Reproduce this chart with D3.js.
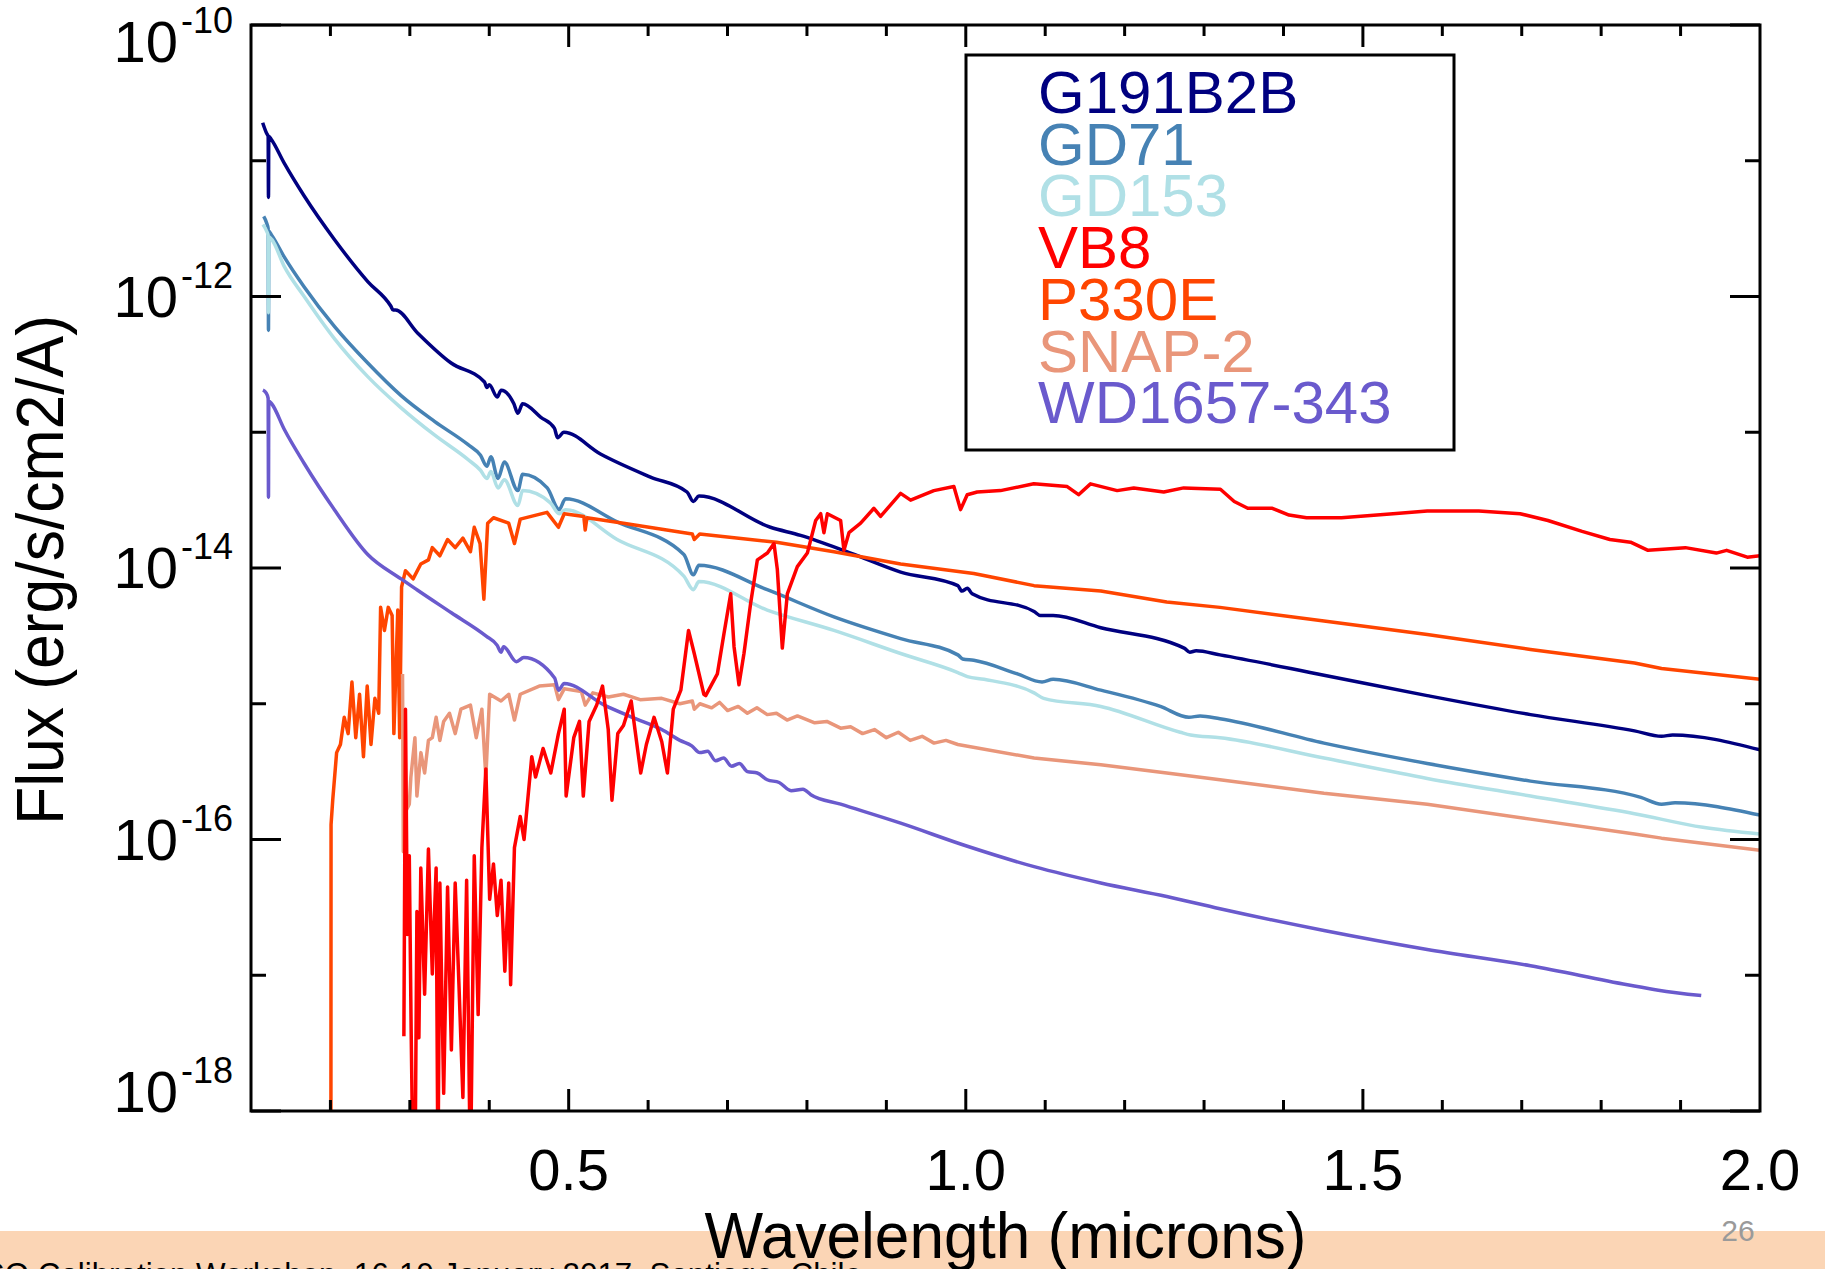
<!DOCTYPE html>
<html><head><meta charset="utf-8">
<script src="https://cdn.jsdelivr.net/npm/d3@7"></script>
<style>
body{margin:0;background:#fff;overflow:hidden}
svg{display:block}
text{font-family:"Liberation Sans",Arial,Helvetica,sans-serif}
</style>
</head><body>
<svg id="chart" width="1825" height="1269"></svg>
<script>
// ---------------- DATA (wavelength in microns, log10 flux in erg/s/cm2/A) ----------------
const seriesNames  = ["G191B2B","GD71","GD153","VB8","P330E","SNAP-2","WD1657-343"];
const seriesColors = ["#000080","#4682B4","#B0E0E6","#FF0000","#FF4500","#E9967A","#6A5ACD"];

const G191B2B = [[0.1147,-10.72],[0.1198,-10.80],[0.1216,-10.82],[0.1220,-11.27],[0.1224,-10.82],[0.1252,-10.84],[0.142,-11.02],[0.167,-11.26],[0.205,-11.58],[0.247,-11.89],[0.276,-12.07],[0.279,-12.10],[0.282,-12.10],[0.310,-12.27],[0.352,-12.49],[0.394,-12.63],[0.397,-12.67],[0.400,-12.65],[0.410,-12.74],[0.415,-12.69],[0.431,-12.79],[0.436,-12.86],[0.442,-12.79],[0.465,-12.89],[0.482,-12.97],[0.486,-13.04],[0.494,-13.00],[0.540,-13.16],[0.603,-13.33],[0.649,-13.44],[0.657,-13.51],[0.664,-13.47],[0.754,-13.70],[0.792,-13.76],[0.855,-13.89],[0.918,-14.03],[0.990,-14.13],[0.995,-14.17],[1.002,-14.15],[1.008,-14.19],[1.086,-14.32],[1.094,-14.35],[1.110,-14.35],[1.170,-14.44],[1.275,-14.59],[1.282,-14.62],[1.290,-14.61],[1.32,-14.64],[1.451,-14.79],[1.581,-14.94],[1.711,-15.08],[1.842,-15.20],[1.876,-15.24],[1.890,-15.23],[2.0,-15.34]];

const GD71 = [[0.1160,-11.41],[0.1198,-11.46],[0.1216,-11.50],[0.1220,-12.25],[0.1224,-11.52],[0.1262,-11.55],[0.142,-11.71],[0.167,-11.93],[0.205,-12.22],[0.247,-12.49],[0.289,-12.73],[0.331,-12.92],[0.373,-13.09],[0.389,-13.17],[0.397,-13.25],[0.402,-13.18],[0.411,-13.34],[0.419,-13.22],[0.436,-13.43],[0.442,-13.31],[0.473,-13.41],[0.488,-13.57],[0.496,-13.49],[0.561,-13.66],[0.645,-13.90],[0.657,-14.05],[0.664,-13.98],[0.750,-14.16],[0.834,-14.36],[0.918,-14.52],[0.990,-14.64],[0.996,-14.67],[1.010,-14.68],[1.065,-14.78],[1.096,-14.84],[1.110,-14.82],[1.170,-14.90],[1.245,-15.02],[1.281,-15.10],[1.295,-15.09],[1.320,-15.11],[1.451,-15.29],[1.581,-15.44],[1.711,-15.57],[1.850,-15.69],[1.876,-15.74],[1.893,-15.73],[2.0,-15.82]];

const GD153 = [[0.1150,-11.47],[0.1198,-11.52],[0.1216,-11.55],[0.1220,-12.12],[0.1224,-11.56],[0.1262,-11.58],[0.142,-11.78],[0.167,-12.00],[0.205,-12.31],[0.247,-12.59],[0.289,-12.82],[0.331,-13.02],[0.373,-13.20],[0.389,-13.28],[0.397,-13.34],[0.402,-13.29],[0.411,-13.41],[0.419,-13.35],[0.436,-13.54],[0.442,-13.43],[0.477,-13.52],[0.488,-13.60],[0.496,-13.57],[0.561,-13.79],[0.645,-14.06],[0.657,-14.16],[0.664,-14.10],[0.750,-14.31],[0.834,-14.46],[0.918,-14.63],[0.990,-14.77],[1.002,-14.80],[1.023,-14.82],[1.086,-14.92],[1.098,-14.96],[1.170,-15.02],[1.270,-15.21],[1.283,-15.23],[1.320,-15.25],[1.451,-15.40],[1.581,-15.55],[1.711,-15.68],[1.842,-15.81],[1.928,-15.91],[2.0,-15.96]];

const VB8 = [[0.2925,-17.45],[0.2945,-15.04],[0.2969,-16.70],[0.2993,-16.12],[0.3017,-17.43],[0.3041,-18.5],[0.3065,-18.5],[0.3089,-16.53],[0.3114,-17.46],[0.3138,-16.21],[0.3186,-17.14],[0.3234,-16.07],[0.3283,-16.99],[0.3331,-16.21],[0.3354,-18.5],[0.3378,-16.32],[0.3426,-17.87],[0.3475,-16.35],[0.3523,-17.55],[0.3571,-16.32],[0.3619,-17.08],[0.3668,-17.90],[0.3715,-16.30],[0.3763,-18.5],[0.3811,-16.12],[0.3860,-17.29],[0.3907,-16.06],[0.3957,-15.48],[0.4005,-16.44],[0.4053,-16.18],[0.4101,-16.56],[0.4148,-16.30],[0.4196,-16.97],[0.4245,-16.32],[0.4269,-17.07],[0.4317,-16.06],[0.4390,-15.83],[0.4438,-16.00],[0.4535,-15.39],[0.4583,-15.54],[0.4678,-15.33],[0.4775,-15.51],[0.4871,-15.22],[0.4944,-15.04],[0.4968,-15.68],[0.5064,-15.25],[0.5136,-15.13],[0.5184,-15.68],[0.5257,-15.13],[0.5353,-15.01],[0.5426,-14.87],[0.5498,-15.19],[0.5545,-15.71],[0.5618,-15.22],[0.5690,-15.16],[0.5787,-14.98],[0.5907,-15.51],[0.5978,-15.30],[0.6075,-15.10],[0.6172,-15.28],[0.6243,-15.51],[0.6317,-15.04],[0.6412,-14.90],[0.6509,-14.46],[0.6581,-14.63],[0.6702,-14.93],[0.6725,-14.94],[0.6872,-14.78],[0.6956,-14.48],[0.7040,-14.19],[0.7082,-14.58],[0.7144,-14.86],[0.7207,-14.63],[0.7291,-14.26],[0.7376,-13.94],[0.7502,-13.89],[0.7585,-13.82],[0.7627,-14.01],[0.7690,-14.59],[0.7753,-14.19],[0.7879,-13.99],[0.8005,-13.89],[0.8110,-13.65],[0.8173,-13.60],[0.8214,-13.74],[0.8257,-13.60],[0.8424,-13.65],[0.8466,-13.87],[0.8529,-13.74],[0.8676,-13.67],[0.8843,-13.56],[0.8927,-13.62],[0.9179,-13.45],[0.9305,-13.50],[0.9598,-13.43],[0.9850,-13.40],[0.9934,-13.57],[1.0018,-13.46],[1.0144,-13.44],[1.0437,-13.43],[1.0856,-13.38],[1.1277,-13.40],[1.1420,-13.46],[1.1570,-13.38],[1.1906,-13.43],[1.2115,-13.41],[1.2492,-13.44],[1.2744,-13.41],[1.3206,-13.42],[1.338,-13.51],[1.355,-13.56],[1.386,-13.56],[1.407,-13.61],[1.429,-13.63],[1.473,-13.63],[1.538,-13.60],[1.581,-13.58],[1.646,-13.58],[1.698,-13.60],[1.733,-13.65],[1.776,-13.73],[1.811,-13.79],[1.837,-13.81],[1.859,-13.87],[1.906,-13.85],[1.945,-13.89],[1.958,-13.87],[1.984,-13.92],[2.0,-13.91]];

const P330E = [[0.2006,-18.5],[0.2008,-15.89],[0.2029,-15.71],[0.2078,-15.36],[0.2126,-15.30],[0.2174,-15.10],[0.2223,-15.22],[0.2271,-14.84],[0.2319,-15.25],[0.2367,-14.93],[0.2416,-15.39],[0.2463,-14.87],[0.2511,-15.30],[0.2560,-14.96],[0.2608,-15.07],[0.2632,-14.29],[0.2680,-14.46],[0.2728,-14.29],[0.2777,-14.35],[0.2799,-15.22],[0.2848,-14.31],[0.2872,-15.25],[0.2896,-14.14],[0.2945,-14.02],[0.3041,-14.08],[0.3138,-13.97],[0.3234,-13.94],[0.3283,-13.85],[0.3378,-13.91],[0.3475,-13.79],[0.3571,-13.85],[0.3668,-13.78],[0.3763,-13.88],[0.3811,-13.70],[0.3884,-13.82],[0.3932,-14.23],[0.3980,-13.67],[0.4053,-13.63],[0.4245,-13.67],[0.4317,-13.82],[0.4390,-13.64],[0.4727,-13.59],[0.4871,-13.70],[0.4944,-13.60],[0.5190,-13.62],[0.5208,-13.72],[0.5230,-13.63],[0.5690,-13.67],[0.6557,-13.75],[0.6581,-13.79],[0.6650,-13.75],[0.7616,-13.81],[0.834,-13.88],[0.918,-13.97],[1.010,-14.04],[1.086,-14.13],[1.170,-14.17],[1.253,-14.25],[1.32,-14.29],[1.451,-14.39],[1.581,-14.49],[1.711,-14.60],[1.842,-14.70],[1.876,-14.74],[2.0,-14.82]];

const SNAP2 = [[0.2908,-14.78],[0.2918,-16.09],[0.2940,-15.80],[0.2993,-15.74],[0.3013,-15.54],[0.3064,-15.25],[0.3089,-15.68],[0.3139,-15.36],[0.3186,-15.51],[0.3234,-15.27],[0.3283,-15.25],[0.3331,-15.10],[0.3378,-15.27],[0.3426,-15.13],[0.3499,-15.07],[0.3571,-15.22],[0.3643,-15.04],[0.3763,-15.01],[0.3836,-15.25],[0.3907,-15.04],[0.3957,-15.54],[0.4005,-14.93],[0.4148,-14.98],[0.4245,-14.93],[0.4317,-15.12],[0.4390,-14.93],[0.4630,-14.87],[0.4823,-14.86],[0.4871,-14.97],[0.4944,-14.89],[0.5160,-14.91],[0.5208,-15.01],[0.5304,-14.92],[0.5500,-14.95],[0.5690,-14.93],[0.5900,-14.97],[0.6172,-14.96],[0.6400,-15.00],[0.6557,-14.98],[0.6581,-15.04],[0.6652,-15.00],[0.6800,-15.03],[0.6900,-14.99],[0.7000,-15.05],[0.7134,-15.02],[0.7250,-15.07],[0.7370,-15.03],[0.7500,-15.08],[0.7616,-15.07],[0.7750,-15.12],[0.7880,-15.09],[0.8098,-15.14],[0.8250,-15.13],[0.8424,-15.18],[0.8550,-15.17],[0.8700,-15.22],[0.8850,-15.19],[0.9000,-15.25],[0.9150,-15.21],[0.9300,-15.27],[0.9450,-15.24],[0.9600,-15.29],[0.9750,-15.27],[0.9900,-15.30],[1.086,-15.40],[1.170,-15.45],[1.253,-15.51],[1.32,-15.56],[1.451,-15.66],[1.581,-15.74],[1.711,-15.85],[1.842,-15.96],[1.876,-15.99],[2.0,-16.08]];

const WD1657 = [[0.1150,-12.69],[0.1190,-12.71],[0.1216,-12.75],[0.1220,-13.48],[0.1224,-12.77],[0.1260,-12.79],[0.142,-12.98],[0.167,-13.23],[0.205,-13.57],[0.247,-13.90],[0.289,-14.08],[0.3089,-14.16],[0.3523,-14.33],[0.3957,-14.50],[0.4100,-14.57],[0.4148,-14.62],[0.4180,-14.58],[0.4341,-14.69],[0.4435,-14.66],[0.4823,-14.81],[0.4871,-14.90],[0.4944,-14.85],[0.5449,-15.01],[0.5800,-15.10],[0.6172,-15.19],[0.6400,-15.27],[0.6550,-15.31],[0.6650,-15.36],[0.6750,-15.35],[0.6850,-15.42],[0.6950,-15.40],[0.7050,-15.46],[0.7150,-15.44],[0.7250,-15.50],[0.7375,-15.51],[0.7500,-15.56],[0.7650,-15.58],[0.7800,-15.64],[0.7950,-15.63],[0.8049,-15.67],[0.8424,-15.74],[0.918,-15.88],[1.002,-16.05],[1.086,-16.20],[1.170,-16.32],[1.253,-16.42],[1.32,-16.51],[1.451,-16.67],[1.581,-16.81],[1.711,-16.93],[1.833,-17.07],[1.872,-17.11],[1.926,-17.15]];

const xTickValues = [0.5, 1.0, 1.5, 2.0];
const xTickLabels = ["0.5", "1.0", "1.5", "2.0"];
const xMinorTicks = [0.2,0.3,0.4,0.6,0.7,0.8,0.9,1.1,1.2,1.3,1.4,1.6,1.7,1.8,1.9];
const yMajorExp = [-10, -12, -14, -16, -18];
const yMinorExp = [-11, -13, -15, -17];
const xTitle = "Wavelength (microns)";
const yTitle = "Flux (erg/s/cm2/A)";
const footerText = "ESO Calibration Workshop, 16-19 January 2017, Santiago, Chile";
const pageNumber = "26";

// ---------------- DRAWING ----------------
const seriesData = [G191B2B, GD71, GD153, VB8, P330E, SNAP2, WD1657];
const smoothSeries = [true, true, true, false, false, false, true];
const drawOrder = [0, 1, 2, 4, 5, 6, 3];

const L = 251, R = 1760, T = 25, B = 1111;
const svg = d3.select("#chart");
const x = d3.scaleLinear().domain([0.1, 2.0]).range([L, R]);
const y = d3.scaleLog().domain([1e-18, 1e-10]).range([B, T]);

svg.append("defs").append("clipPath").attr("id", "plotclip")
  .append("rect").attr("x", L).attr("y", T).attr("width", R - L).attr("height", B - T);

const lineLin = d3.line().x(d => x(d[0])).y(d => y(Math.pow(10, d[1])));
const lineSmooth = d3.line().curve(d3.curveMonotoneX).x(d => x(d[0])).y(d => y(Math.pow(10, d[1])));
const curves = svg.append("g").attr("clip-path", "url(#plotclip)");
drawOrder.forEach(i => {
  curves.append("path").datum(seriesData[i])
    .attr("d", smoothSeries[i] ? lineSmooth : lineLin).attr("fill", "none")
    .attr("stroke", seriesColors[i]).attr("stroke-width", 3.5)
    .attr("stroke-linejoin", "round");
});

// frame
svg.append("rect").attr("x", L).attr("y", T).attr("width", R - L).attr("height", B - T)
  .attr("fill", "none").attr("stroke", "#000").attr("stroke-width", 3);

const ticks = svg.append("g").attr("stroke", "#000").attr("stroke-width", 3);
xTickValues.filter(v => v < 2.0).forEach(v => {
  ticks.append("line").attr("x1", x(v)).attr("x2", x(v)).attr("y1", B).attr("y2", B - 22);
  ticks.append("line").attr("x1", x(v)).attr("x2", x(v)).attr("y1", T).attr("y2", T + 22);
});
xMinorTicks.forEach(v => {
  ticks.append("line").attr("x1", x(v)).attr("x2", x(v)).attr("y1", B).attr("y2", B - 11);
  ticks.append("line").attr("x1", x(v)).attr("x2", x(v)).attr("y1", T).attr("y2", T + 11);
});
yMajorExp.forEach(e => {
  const yy = y(Math.pow(10, e));
  ticks.append("line").attr("x1", L).attr("x2", L + 30).attr("y1", yy).attr("y2", yy);
  ticks.append("line").attr("x1", R).attr("x2", R - 30).attr("y1", yy).attr("y2", yy);
});
yMinorExp.forEach(e => {
  const yy = y(Math.pow(10, e));
  ticks.append("line").attr("x1", L).attr("x2", L + 15).attr("y1", yy).attr("y2", yy);
  ticks.append("line").attr("x1", R).attr("x2", R - 15).attr("y1", yy).attr("y2", yy);
});

// x tick labels
xTickValues.forEach((v, i) => {
  svg.append("text").attr("x", x(v)).attr("y", 1190).attr("text-anchor", "middle")
    .attr("font-size", 58).attr("fill", "#000").text(xTickLabels[i]);
});

// y tick labels 10^n
yMajorExp.forEach(e => {
  const yy = y(Math.pow(10, e));
  const base = Math.max(62, Math.min(yy + 20, B + 1));
  const t = svg.append("text").attr("x", 233).attr("y", base).attr("text-anchor", "end")
    .attr("font-size", 58).attr("fill", "#000");
  t.append("tspan").text("10");
  t.append("tspan").attr("dy", -29).attr("dx", 3).attr("font-size", 36).text(String(e));
});

// legend
svg.append("rect").attr("x", 966).attr("y", 55).attr("width", 488).attr("height", 395)
  .attr("fill", "#fff").attr("stroke", "#000").attr("stroke-width", 3);
seriesNames.forEach((n, i) => {
  svg.append("text").attr("x", 1038).attr("y", 113 + i * 51.7)
    .attr("font-size", 60).attr("fill", seriesColors[i]).text(n);
});

// footer band
svg.append("rect").attr("x", 0).attr("y", 1231).attr("width", 1825).attr("height", 38).attr("fill", "#FBD5B5");
svg.append("text").attr("x", -37).attr("y", 1285).attr("font-size", 31.3).attr("fill", "#000").text(footerText);
svg.append("text").attr("x", 1738).attr("y", 1241).attr("text-anchor", "middle")
  .attr("font-size", 30).attr("fill", "#9a9a9a").text(pageNumber);

// axis titles
svg.append("text").attr("x", (L + R) / 2).attr("y", 1258).attr("text-anchor", "middle")
  .attr("font-size", 64).attr("textLength", 602).attr("lengthAdjust", "spacingAndGlyphs")
  .attr("fill", "#000").text(xTitle);
svg.append("text").attr("transform", "translate(63,570) rotate(-90)").attr("text-anchor", "middle")
  .attr("font-size", 66).attr("textLength", 510).attr("lengthAdjust", "spacingAndGlyphs")
  .attr("fill", "#000").text(yTitle);
</script>
</body></html>
